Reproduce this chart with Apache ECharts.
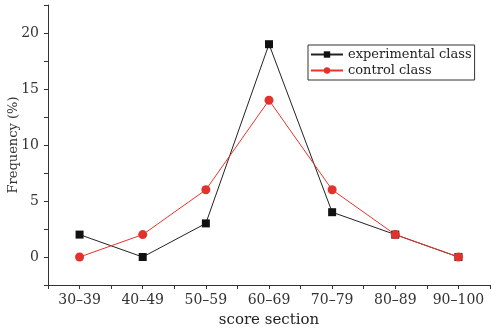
<!DOCTYPE html>
<html><head><meta charset="utf-8">
<script src="https://cdn.jsdelivr.net/npm/echarts@6/dist/echarts.min.js"></script>
<style>html,body{margin:0;padding:0;background:#fff}#c{width:491px;height:329px}</style>
</head><body><div id="c"></div>
<script>
var categories = ['30\u201339','40\u201349','50\u201359','60\u201369','70\u201379','80\u201389','90\u2013100'];
var experimental = [2, 0, 3, 19, 4, 2, 0];
var control = [0, 2, 6, 14, 6, 2, 0];
var yTicks = [0, 5, 10, 15, 20];

function pairs(arr){ return arr.map(function(v,i){ return [i, v]; }); }
var font = '"DejaVu Serif","Liberation Serif",serif';
var chart = echarts.init(document.getElementById('c'));
chart.setOption({
  animation: false,
  backgroundColor: '#fff',
  grid: {left: 48, right: 1, top: 5, bottom: 44, containLabel: false, outerBoundsMode: 'none'},
  legend: {
    orient: 'vertical', left: 308, top: 45,
    data: ['experimental class', 'control class'],
    borderColor: '#333', borderWidth: 1, padding: [3, 3, 3, 2],
    itemWidth: 32, itemHeight: 8, itemGap: 3,
    textStyle: {fontFamily: font, fontSize: 13, color: '#222'}
  },
  xAxis: {
    type: 'value', min: -0.5, max: 6.5, interval: 0.5,
    name: 'score section', nameLocation: 'middle', nameGap: 28, nameMoveOverlap: false,
    nameTextStyle: {fontFamily: font, fontSize: 15, color: '#222'},
    splitLine: {show: false},
    axisLine: {show: true, onZero: false, lineStyle: {color: '#333', width: 1}},
    axisTick: {show: true, length: 4, inside: false, lineStyle: {color: '#333'}},
    axisLabel: {
      fontFamily: font, fontSize: 14, color: '#333', margin: 8,
      formatter: function(v){ var i = Math.round(v); return (Math.abs(v - i) < 1e-6 && categories[i]) ? categories[i] : ''; }
    }
  },
  yAxis: {
    type: 'value', min: -2.5, max: 22.5, interval: 2.5,
    name: 'Frequency (%)', nameLocation: 'middle', nameGap: 28, nameMoveOverlap: false,
    nameTextStyle: {fontFamily: font, fontSize: 13, color: '#333'},
    splitLine: {show: false},
    axisLine: {show: true, onZero: false, lineStyle: {color: '#333', width: 1}},
    axisTick: {show: true, length: 4, inside: false, lineStyle: {color: '#333'}},
    axisLabel: {
      fontFamily: font, fontSize: 14, color: '#333', margin: 9,
      formatter: function(v){ return yTicks.indexOf(v) >= 0 ? String(v) : ''; }
    }
  },
  series: [
    {
      name: 'experimental class', type: 'line', data: pairs(experimental),
      symbol: 'rect', symbolSize: 8,
      lineStyle: {color: '#222', width: 1},
      itemStyle: {color: '#111'}
    },
    {
      name: 'control class', type: 'line', data: pairs(control),
      symbol: 'circle', symbolSize: 9,
      lineStyle: {color: '#e8342c', width: 1},
      itemStyle: {color: '#e3322b'}
    }
  ]
});
</script></body></html>
